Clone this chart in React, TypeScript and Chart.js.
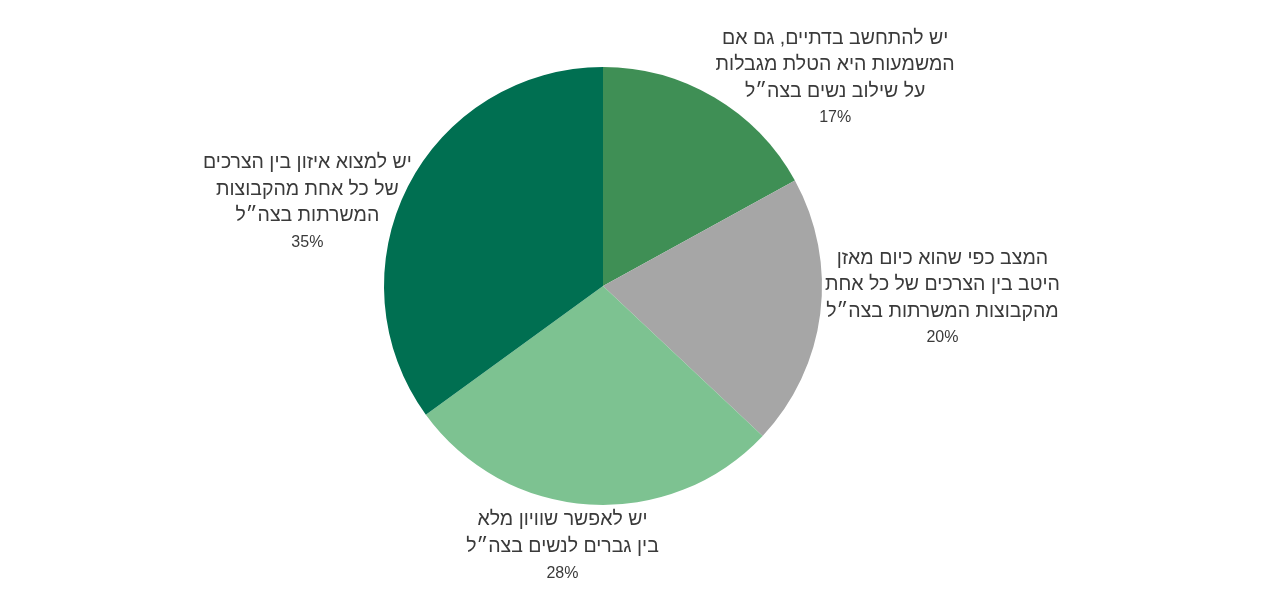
import React, { useEffect, useRef } from 'react';
import Chart from 'chart.js/auto';

// תוויות הקטגוריות (שורות נפרדות לכל תווית)
const categories: string[][] = [
    ['יש להתחשב בדתיים, גם אם', 'המשמעות היא הטלת מגבלות', 'על שילוב נשים בצה״ל'],
    ['המצב כפי שהוא כיום מאזן', 'היטב בין הצרכים של כל אחת', 'מהקבוצות המשרתות בצה״ל'],
    ['יש לאפשר שוויון מלא', 'בין גברים לנשים בצה״ל'],
    ['יש למצוא איזון בין הצרכים', 'של כל אחת מהקבוצות', 'המשרתות בצה״ל'],
];
const values: number[] = [17, 20, 28, 35];
const colors: string[] = ['#3f8f55', '#a6a6a6', '#7dc291', '#006f51'];

// מיקום התוויות ביחס למרכז העוגה, ביחידות של רדיוס
const labelOffsets: [number, number][] = [
    [1.06, -0.95],
    [1.55, 0.055],
    [-0.185, 1.19],
    [-1.35, -0.38],
];

const labelPlugin = {
    id: 'outLabels',
    afterDatasetsDraw(chart: Chart) {
        const ctx = chart.ctx;
        const meta = chart.getDatasetMeta(0);
        const arc: any = meta.data[0];
        if (!arc) return;
        const cx = arc.x;
        const cy = arc.y;
        const r = arc.outerRadius;
        const lineH = 26.5;
        ctx.save();
        ctx.fillStyle = '#3a3a3a';
        ctx.textAlign = 'center';
        ctx.textBaseline = 'middle';
        (ctx as any).direction = 'rtl';
        categories.forEach((lines, i) => {
            const [ox, oy] = labelOffsets[i];
            const x = cx + ox * r;
            const y = cy + oy * r;
            const n = lines.length + 1;
            const top = y - ((n - 1) * lineH) / 2;
            ctx.font = '19.5px "Liberation Sans", Arial, sans-serif';
            lines.forEach((t, j) => ctx.fillText(t, x, top + j * lineH));
            ctx.font = '16px "Liberation Sans", Arial, sans-serif';
            ctx.fillText(values[i] + '%', x, top + lines.length * lineH);
        });
        ctx.restore();
    },
};

const App: React.FC = () => {
    const chartRef = useRef<HTMLCanvasElement>(null);
    const chartInstanceRef = useRef<Chart | null>(null);

    useEffect(() => {
        if (chartRef.current) {
            const myChartRef = chartRef.current.getContext('2d');
            if (chartInstanceRef.current) {
                chartInstanceRef.current.destroy();
            }
            if (myChartRef) {
                chartInstanceRef.current = new Chart(myChartRef, {
                    type: 'pie',
                    data: {
                        labels: categories.map((l) => l.join(' ')),
                        datasets: [
                            {
                                data: values,
                                backgroundColor: colors,
                                borderWidth: 0,
                            },
                        ],
                    },
                    options: {
                        animation: false,
                        responsive: true,
                        maintainAspectRatio: false,
                        layout: {
                            padding: { top: 59, bottom: 94, left: 0, right: 56 },
                        },
                        plugins: {
                            legend: { display: false },
                            tooltip: { enabled: false },
                        },
                    },
                    plugins: [labelPlugin],
                });
            }
        }
        return () => {
            if (chartInstanceRef.current) {
                chartInstanceRef.current.destroy();
                chartInstanceRef.current = null;
            }
        };
    }, []);

    return (
        <div style={{ width: 1246, height: 591, position: 'relative' }}>
            <canvas ref={chartRef} />
        </div>
    );
};

export default App;
